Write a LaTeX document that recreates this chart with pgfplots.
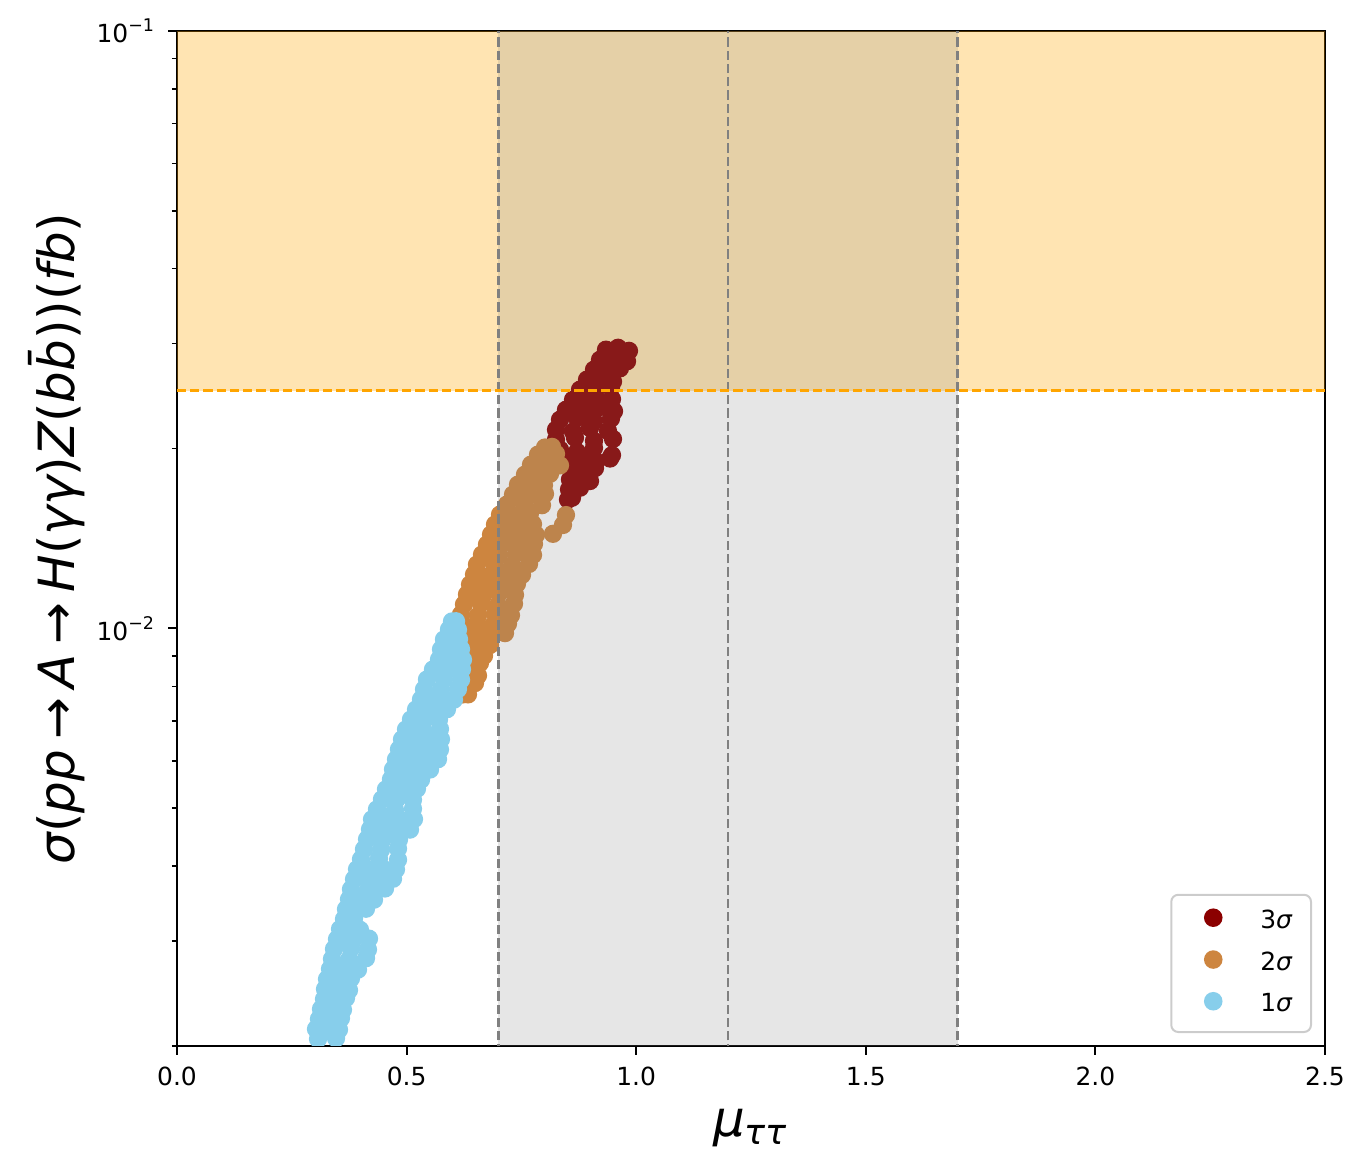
\documentclass[border=0pt]{standalone}
\usepackage{fontspec}
\setmainfont{DejaVu Sans}
\usepackage{pgfplots}
\pgfplotsset{compat=1.18}
\definecolor{sig3}{RGB}{139,0,0}
\definecolor{sig2}{RGB}{205,133,63}
\definecolor{sig1}{RGB}{135,206,235}
\definecolor{mplorange}{RGB}{255,165,0}
\definecolor{mplgray}{RGB}{128,128,128}
\newcommand{\mi}[1]{{\itshape #1}}
\newcommand{\ticksize}{\fontsize{7.1}{8.5}\selectfont}
\newcommand{\labsize}{\fontsize{14.2}{17}\selectfont}
\begin{document}
\begin{tikzpicture}
\begin{axis}[
  name=ax,
  scale only axis,
  width=11.48cm, height=10.15cm,
  xmin=0, xmax=2.5,
  ymode=log, ymin=0.002, ymax=0.1,
  xtick={0,0.5,1,1.5,2,2.5},
  xticklabel style={/pgf/number format/.cd, fixed, fixed zerofill, precision=1, assume math mode=true},
  ytick={0.01,0.1},
  yticklabels={10\textsuperscript{−2},10\textsuperscript{−1}},
  minor ytick={0.002,0.003,0.004,0.005,0.006,0.007,0.008,0.009,0.02,0.03,0.04,0.05,0.06,0.07,0.08,0.09},
  tick align=outside,
  xtick pos=bottom, ytick pos=left,
  major tick length=0.0875cm, minor tick length=0.05cm,
  every major tick/.style={black, line width=0.57pt},
  every minor tick/.style={black, line width=0.43pt},
  axis line style={line width=0.57pt},
  tick label style={font=\ticksize},
  xlabel={\mi{μ}\textsubscript{\mi{ττ}}},
  ylabel={\mi{σ}(\mi{pp}\hspace{0.2em}→\hspace{0.2em}\mi{A}\hspace{0.2em}→\hspace{0.2em}\mi{H}(\mi{γγ})\mi{Z}(\mi{b\={b}}))(\mi{fb})},
  label style={font=\labsize},
  xlabel style={at={(axis description cs:0.5,-0.081)}, anchor=center},
  ylabel style={at={(axis description cs:-0.105,0.5)}, anchor=center},
  clip marker paths=true,
  legend cell align=left,
  legend style={at={(rel axis cs:0.9887,0.0128)}, anchor=south east, draw=black!20, line width=0.57pt, rounded corners=2pt, font=\ticksize, inner xsep=0.12cm, inner ysep=0.08cm, row sep=0.04cm},
  legend image code/.code={\path[draw=none, fill=none] (0cm,0cm) -- (0.70cm,0cm); \draw[#1, mark size=2.35pt] plot coordinates {(0.30cm,0.04cm)};},
]
% orange band below the points
\addplot[draw=none, fill=mplorange, fill opacity=0.3, forget plot] coordinates {(0,0.025) (2.5,0.025) (2.5,0.1) (0,0.1)};

\addplot[only marks, mark=*, color=sig3, mark size=2.4pt] coordinates {
(0.9342,0.02928) (0.9604,0.02950) (0.9843,0.02915)
(0.9212,0.02817) (0.9517,0.02840) (0.9800,0.02800)
(0.9081,0.02711) (0.9364,0.02690) (0.9647,0.02725)
(0.8929,0.02609) (0.9212,0.02630) (0.9495,0.02590)
(0.8776,0.02510) (0.9103,0.02490) (0.9451,0.02530)
(0.8624,0.02414) (0.8906,0.02430) (0.9190,0.02400) (0.9473,0.02420)
(0.8471,0.02323) (0.8820,0.02300) (0.9169,0.02340) (0.9517,0.02310)
(0.8341,0.02236) (0.8711,0.02250) (0.9081,0.02220) (0.9451,0.02245)
(0.8254,0.02151) (0.8624,0.02135) (0.8994,0.02165) (0.9386,0.02140)
(0.8254,0.02070) (0.8667,0.02085) (0.9081,0.02060) (0.9495,0.02075)
(0.8341,0.01992) (0.8711,0.01975) (0.9081,0.02005) (0.9473,0.01950)
(0.8515,0.01917) (0.8820,0.01930) (0.9125,0.01905) (0.9430,0.01925)
(0.8580,0.01845) (0.8841,0.01830) (0.9103,0.01855)
(0.8558,0.01775) (0.8776,0.01790) (0.8994,0.01765)
(0.8537,0.01708) (0.8776,0.01720)
(0.8515,0.01643) (0.8602,0.01655)
};
\addlegendentry{3\mi{σ}}

\addplot[only marks, mark=*, color=sig2, mark size=2.4pt] coordinates {
(0.6228,0.007755) (0.6337,0.007755)
(0.6272,0.008061) (0.6490,0.008100)
(0.6315,0.008377) (0.6555,0.008340)
(0.6337,0.008707) (0.6598,0.008750)
(0.6359,0.009049) (0.6686,0.009000)
(0.6381,0.009402) (0.6598,0.009450) (0.6816,0.009380)
(0.6446,0.009772) (0.6795,0.009720) (0.7143,0.009820)
(0.6206,0.010155) (0.6533,0.010200) (0.6882,0.010120) (0.7208,0.010180)
(0.6185,0.010554) (0.6555,0.010500) (0.6925,0.010600) (0.7273,0.010520)
(0.6250,0.010968) (0.6620,0.011020) (0.6990,0.010930) (0.7339,0.011000)
(0.6315,0.011400) (0.6664,0.011350) (0.7012,0.011450) (0.7361,0.011380)
(0.6381,0.011846) (0.6729,0.011900) (0.7078,0.011800) (0.7404,0.011880)
(0.6468,0.012311) (0.6816,0.012250) (0.7165,0.012360) (0.7513,0.012290)
(0.6533,0.012794) (0.6903,0.012850) (0.7295,0.012740) (0.7666,0.012820)
(0.6642,0.013295) (0.7012,0.013240) (0.7383,0.013350) (0.7753,0.013270)
(0.6751,0.013820) (0.7099,0.013880) (0.7448,0.013770) (0.7774,0.013850)
(0.6838,0.014361) (0.7165,0.014300) (0.7491,0.014420) (0.7818,0.014340) (0.8188,0.014400)
(0.6925,0.014925) (0.7208,0.014980) (0.7491,0.014870) (0.7753,0.014950) (0.8406,0.014900)
(0.7034,0.015510) (0.7361,0.015450) (0.7687,0.015570) (0.8471,0.015480)
(0.7186,0.016121) (0.7557,0.016180) (0.7949,0.016080)
(0.7317,0.016753) (0.7666,0.016700) (0.8014,0.016800)
(0.7426,0.017410) (0.7709,0.017470) (0.7992,0.017360)
(0.7578,0.018093) (0.7840,0.018030) (0.8123,0.018150)
(0.7709,0.018802) (0.8014,0.018860) (0.8341,0.018750)
(0.7862,0.019543) (0.8057,0.019480) (0.8254,0.019600)
(0.8014,0.020080) (0.8167,0.020130)
};
\addlegendentry{2\mi{σ}}

\addplot[only marks, mark=*, color=sig1, mark size=2.4pt] coordinates {
(0.2983,0.001992) (0.3245,0.001992) (0.3506,0.001992)
(0.3071,0.002055) (0.3463,0.002060)
(0.3027,0.002135) (0.3288,0.002140) (0.3528,0.002130)
(0.3092,0.002219) (0.3354,0.002210) (0.3571,0.002225)
(0.3136,0.002306) (0.3375,0.002315) (0.3615,0.002300)
(0.3201,0.002396) (0.3441,0.002390) (0.3680,0.002405)
(0.3223,0.002490) (0.3484,0.002500) (0.3746,0.002480)
(0.3267,0.002588) (0.3528,0.002580) (0.3789,0.002595)
(0.3332,0.002691) (0.3637,0.002700) (0.3942,0.002685)
(0.3375,0.002796) (0.3746,0.002790) (0.4116,0.002805)
(0.3419,0.002906) (0.3789,0.002915) (0.4159,0.002900)
(0.3484,0.003019) (0.3833,0.003010) (0.4181,0.003025)
(0.3550,0.003139) (0.3767,0.003150) (0.3985,0.003130)
(0.3637,0.003262) (0.3855,0.003270)
(0.3680,0.003389) (0.3898,0.003380) (0.4116,0.003395)
(0.3746,0.003522) (0.4007,0.003530) (0.4290,0.003515)
(0.3789,0.003660) (0.4159,0.003650) (0.4530,0.003670)
(0.3855,0.003804) (0.4138,0.003815) (0.4421,0.003795) (0.4704,0.003810)
(0.3920,0.003953) (0.4203,0.003945) (0.4486,0.003965) (0.4769,0.003950)
(0.4007,0.004108) (0.4399,0.004120) (0.4813,0.004100)
(0.4072,0.004269) (0.4443,0.004260) (0.4813,0.004280)
(0.4138,0.004437) (0.4486,0.004445) (0.4834,0.004430)
(0.4203,0.004611) (0.4486,0.004600) (0.4769,0.004620) (0.5074,0.004605)
(0.4247,0.004791) (0.4551,0.004800) (0.4856,0.004785) (0.5161,0.004795)
(0.4355,0.004979) (0.4747,0.004970) (0.5139,0.004990)
(0.4464,0.005176) (0.4791,0.005185) (0.5139,0.005165)
(0.4551,0.005378) (0.4878,0.005370) (0.5226,0.005390)
(0.4660,0.005590) (0.4987,0.005600) (0.5314,0.005580)
(0.4704,0.005809) (0.4965,0.005800) (0.5244,0.005820) (0.5510,0.005805)
(0.4769,0.006036) (0.5074,0.006045) (0.5379,0.006025) (0.5684,0.006040)
(0.4834,0.006275) (0.5139,0.006265) (0.5444,0.006285) (0.5727,0.006270)
(0.4900,0.006521) (0.5183,0.006530) (0.5466,0.006510) (0.5749,0.006525)
(0.4987,0.006776) (0.5357,0.006765) (0.5727,0.006785)
(0.5096,0.007042) (0.5401,0.007055) (0.5706,0.007035)
(0.5205,0.007318) (0.5531,0.007305) (0.5880,0.007325)
(0.5314,0.007607) (0.5662,0.007620) (0.6032,0.007600)
(0.5379,0.007906) (0.5749,0.007895) (0.6119,0.007915)
(0.5444,0.008215) (0.5814,0.008225) (0.6185,0.008205)
(0.5575,0.008537) (0.5880,0.008525) (0.6206,0.008545)
(0.5706,0.008874) (0.5967,0.008885) (0.6228,0.008865)
(0.5749,0.009223) (0.5967,0.009210) (0.6185,0.009235)
(0.5814,0.009585) (0.6141,0.009595)
(0.5923,0.009961) (0.6119,0.009950)
(0.5989,0.010273) (0.6076,0.010280)
};
\addlegendentry{1\mi{σ}}

% gray band on top of the points
\addplot[draw=none, fill=mplgray, fill opacity=0.2, forget plot] coordinates {(0.7,0.001) (1.7,0.001) (1.7,0.2) (0.7,0.2)};
\addplot[mplgray, line width=0.71pt, dash pattern=on 2.63pt off 1.14pt, forget plot] coordinates {(0.7,0.001) (0.7,0.2)};
\addplot[mplgray, line width=0.71pt, dash pattern=on 2.63pt off 1.14pt, forget plot] coordinates {(1.2,0.001) (1.2,0.2)};
\addplot[mplgray, line width=0.71pt, dash pattern=on 2.63pt off 1.14pt, forget plot] coordinates {(1.7,0.001) (1.7,0.2)};
\addplot[mplorange, line width=0.71pt, dash pattern=on 2.63pt off 1.14pt, forget plot] coordinates {(0,0.025) (2.5,0.025)};
\end{axis}
\pgfresetboundingbox
\path ([xshift=-1.77cm,yshift=-1.27cm]ax.south west) rectangle ([xshift=0.42cm,yshift=0.31cm]ax.north east);
\end{tikzpicture}
\end{document}
